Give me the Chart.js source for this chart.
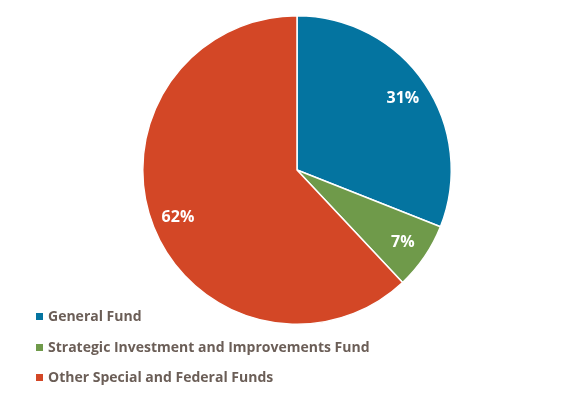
<!DOCTYPE html>
<html>
<head>
<meta charset="utf-8">
<script src="https://cdn.jsdelivr.net/npm/chart.js@4"></script>
<style>
  html, body { margin: 0; padding: 0; background: #fff; }
  #wrap { position: relative; width: 570px; height: 402px; }
  #legend { position: absolute; left: 36px; top: 305px; font-family: "Open Sans", sans-serif; font-weight: bold; font-size: 14px; color: #6b5e57; }
  #legend div { height: 30.5px; line-height: 22px; white-space: nowrap; }
  #legend span { display: inline-block; width: 7px; height: 7px; margin-right: 5px; vertical-align: 1px; }
</style>
</head>
<body>
<div id="wrap">
  <canvas id="myChart" width="570" height="402"></canvas>
  <div id="legend"></div>
</div>
<script>
var categories = ['General Fund', 'Strategic Investment and Improvements Fund', 'Other Special and Federal Funds'];
var shares = [31, 7, 62];
var colors = ['#0474a0', '#6f9a4a', '#d34726'];

// legend as html, one item per row
var legend = document.getElementById('legend');
categories.forEach(function (name, i) {
  var row = document.createElement('div');
  var box = document.createElement('span');
  box.style.background = colors[i];
  row.appendChild(box);
  row.appendChild(document.createTextNode(name));
  legend.appendChild(row);
});

// white percentage labels inside the slices
var sliceLabels = {
  id: 'sliceLabels',
  afterDatasetsDraw: function (chart) {
    var c = chart.ctx;
    var meta = chart.getDatasetMeta(0);
    c.save();
    c.fillStyle = '#ffffff';
    c.font = 'bold 16px "Open Sans"';
    c.textAlign = 'center';
    c.textBaseline = 'middle';
    meta.data.forEach(function (arc, i) {
      var mid = (arc.startAngle + arc.endAngle) / 2;
      var r = arc.outerRadius * 0.83;
      c.fillText(shares[i] + '%', arc.x + Math.cos(mid) * r, arc.y + Math.sin(mid) * r);
    });
    c.restore();
  }
};

var ctx = document.getElementById('myChart').getContext('2d');
var chart = new Chart(ctx, {
  type: 'pie',
  data: {
    labels: categories,
    datasets: [{
      data: shares,
      backgroundColor: colors,
      borderColor: '#ffffff',
      borderWidth: 1.5
    }]
  },
  options: {
    responsive: false,
    animation: false,
    layout: { padding: { left: 142, right: 118, top: 15, bottom: 77 } },
    plugins: {
      legend: { display: false },
      tooltip: { enabled: false }
    }
  },
  plugins: [sliceLabels]
});
</script>
</body>
</html>
